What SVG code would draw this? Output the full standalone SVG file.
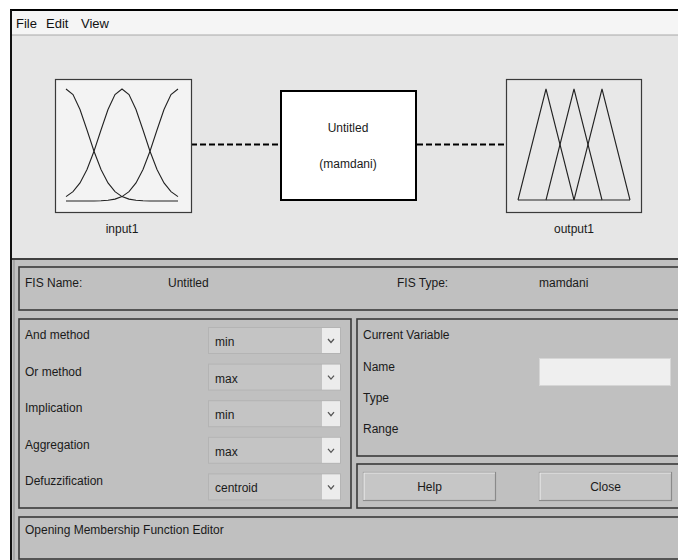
<svg xmlns="http://www.w3.org/2000/svg" width="678" height="560" viewBox="0 0 678 560">
  <style>
    .ui { font-family: "Liberation Sans", Arial, sans-serif; font-size: 12px; fill: #1a1a1a; }
    .menu { font-family: "Liberation Sans", Arial, sans-serif; font-size: 13px; fill: #111; }
    .group { fill: none; stroke: #3a3a3a; stroke-width: 1.6; }
    .drop { fill: #c4c4c4; stroke: #b4b4b4; stroke-width: 1; }
    .droparrow { fill: #ececec; }
    .chev { fill: none; stroke: #555; stroke-width: 1.3; }
    .curve { fill: none; stroke: #222; stroke-width: 1.1; }
    .btn { fill: #c6c6c6; stroke: #8a8a8a; stroke-width: 1.2; }
    .mid { text-anchor: middle; }
  </style>

  <!-- window background -->
  <rect x="0" y="0" width="678" height="560" fill="#ffffff"/>
  <rect x="11" y="10" width="667" height="550" fill="#e6e6e6"/>

  <!-- menu bar -->
  <rect x="11" y="11" width="667" height="24" fill="#f5f5f5"/>
  <line x1="11" y1="35" x2="678" y2="35" stroke="#a8a8a8" stroke-width="1"/>
  <text class="menu" x="16" y="28">File</text>
  <text class="menu" x="46" y="28">Edit</text>
  <text class="menu" x="81" y="28">View</text>

  <!-- window frame -->
  <line x1="10" y1="10" x2="678" y2="10" stroke="#000" stroke-width="2"/>
  <line x1="11" y1="10" x2="11" y2="560" stroke="#111" stroke-width="2"/>

  <!-- connectors -->
  <g id="connectors">
    <line x1="191" y1="144.5" x2="280" y2="144.5" stroke="#000" stroke-width="2" stroke-dasharray="6,3"/>
    <line x1="417" y1="144.5" x2="506" y2="144.5" stroke="#000" stroke-width="2" stroke-dasharray="6,3"/>
  </g>

  <!-- input variable node -->
  <g id="input1">
    <rect x="55.5" y="79.5" width="136" height="133" fill="#f3f3f3" stroke="#3a3a3a" stroke-width="1.2"/>
    <polyline class="curve" points="66,89 73,94.5 80,109.5 87,130 94,151.2 101,169.4 108,182.9 115,191.6 122,196.6 129,199.1 136,200.3 143,200.8 150,201 178,201"/>
    <polyline class="curve" points="66,196.6 73,191.6 80,182.9 87,169.4 94,151.2 101,130 108,109.5 115,94.5 122,89 129,94.5 136,109.5 143,130 150,151.2 157,169.4 164,182.9 171,191.6 178,196.6"/>
    <polyline class="curve" points="178,89 171,94.5 164,109.5 157,130 150,151.2 143,169.4 136,182.9 129,191.6 122,196.6 115,199.1 108,200.3 101,200.8 94,201 66,201"/>
    <text class="ui mid" x="122" y="233">input1</text>
  </g>

  <!-- inference system node -->
  <g id="system">
    <rect x="281" y="91" width="135" height="109" fill="#ffffff" stroke="#000" stroke-width="2"/>
    <text class="ui mid" x="348" y="132">Untitled</text>
    <text class="ui mid" x="348" y="168">(mamdani)</text>
  </g>

  <!-- output variable node -->
  <g id="output1">
    <rect x="506.5" y="79.5" width="135" height="133" fill="#e8e8e8" stroke="#3a3a3a" stroke-width="1.2"/>
    <polyline class="curve" points="518,200 546,89 574,200"/>
    <polyline class="curve" points="546,200 574,89 602,200"/>
    <polyline class="curve" points="574,200 602,89 630,200"/>
    <line class="curve" x1="518" y1="200" x2="630" y2="200"/>
    <text class="ui mid" x="574" y="233">output1</text>
  </g>

  <!-- lower control panel -->
  <rect x="12" y="259" width="666" height="301" fill="#c0c0c0"/>
  <line x1="12" y1="259" x2="678" y2="259" stroke="#404040" stroke-width="2"/>
  <line x1="14" y1="260" x2="14" y2="560" stroke="#8c8c8c" stroke-width="1"/>

  <!-- FIS name / type row -->
  <g id="fis-info">
    <rect class="group" x="19" y="267" width="662" height="43"/>
    <text class="ui" x="25" y="287">FIS Name:</text>
    <text class="ui" x="168" y="287">Untitled</text>
    <text class="ui" x="397" y="287">FIS Type:</text>
    <text class="ui" x="539" y="287">mamdani</text>
  </g>

  <!-- method settings -->
  <g id="methods">
    <rect class="group" x="19" y="319" width="332" height="189"/>
    <text class="ui" x="25" y="339">And method</text>
    <text class="ui" x="25" y="375.6">Or method</text>
    <text class="ui" x="25" y="412.2">Implication</text>
    <text class="ui" x="25" y="448.8">Aggregation</text>
    <text class="ui" x="25" y="485.4">Defuzzification</text>

    <rect class="drop" x="208.5" y="327.5" width="132" height="26"/>
    <rect class="drop" x="208.5" y="364.1" width="132" height="26"/>
    <rect class="drop" x="208.5" y="400.7" width="132" height="26"/>
    <rect class="drop" x="208.5" y="437.3" width="132" height="26"/>
    <rect class="drop" x="208.5" y="473.9" width="132" height="26"/>
    <rect class="droparrow" x="322" y="328" width="18" height="25"/>
    <rect class="droparrow" x="322" y="364.6" width="18" height="25"/>
    <rect class="droparrow" x="322" y="401.2" width="18" height="25"/>
    <rect class="droparrow" x="322" y="437.8" width="18" height="25"/>
    <rect class="droparrow" x="322" y="474.4" width="18" height="25"/>
    <polyline class="chev" points="328,339 331,342.5 334,339"/>
    <polyline class="chev" points="328,375.6 331,379.1 334,375.6"/>
    <polyline class="chev" points="328,412.2 331,415.7 334,412.2"/>
    <polyline class="chev" points="328,448.8 331,452.3 334,448.8"/>
    <polyline class="chev" points="328,485.4 331,488.9 334,485.4"/>

    <text class="ui" x="215" y="346">min</text>
    <text class="ui" x="215" y="382.6">max</text>
    <text class="ui" x="215" y="419.2">min</text>
    <text class="ui" x="215" y="455.8">max</text>
    <text class="ui" x="215" y="492.4">centroid</text>
  </g>

  <!-- current variable -->
  <g id="current-variable">
    <rect class="group" x="357" y="319" width="324" height="137"/>
    <text class="ui" x="363" y="339">Current Variable</text>
    <text class="ui" x="363" y="371">Name</text>
    <text class="ui" x="363" y="402">Type</text>
    <text class="ui" x="363" y="433">Range</text>
    <rect x="539.5" y="358.5" width="131" height="27" fill="#efefef" stroke="#d6d6d6" stroke-width="1"/>
  </g>

  <!-- buttons -->
  <g id="buttons">
    <rect class="group" x="357" y="464" width="324" height="44"/>
    <rect class="btn" x="363.5" y="472.5" width="132" height="28"/>
    <polyline points="364,500 364,473 495,473" fill="none" stroke="#eeeeee" stroke-width="1.2"/>
    <text class="ui mid" x="429.5" y="491">Help</text>
    <rect class="btn" x="539.5" y="472.5" width="132" height="28"/>
    <polyline points="540,500 540,473 671,473" fill="none" stroke="#eeeeee" stroke-width="1.2"/>
    <text class="ui mid" x="605.5" y="491">Close</text>
  </g>

  <!-- status line -->
  <g id="status">
    <rect class="group" x="19" y="517" width="662" height="42"/>
    <text class="ui" x="25" y="534">Opening Membership Function Editor</text>
  </g>
</svg>
